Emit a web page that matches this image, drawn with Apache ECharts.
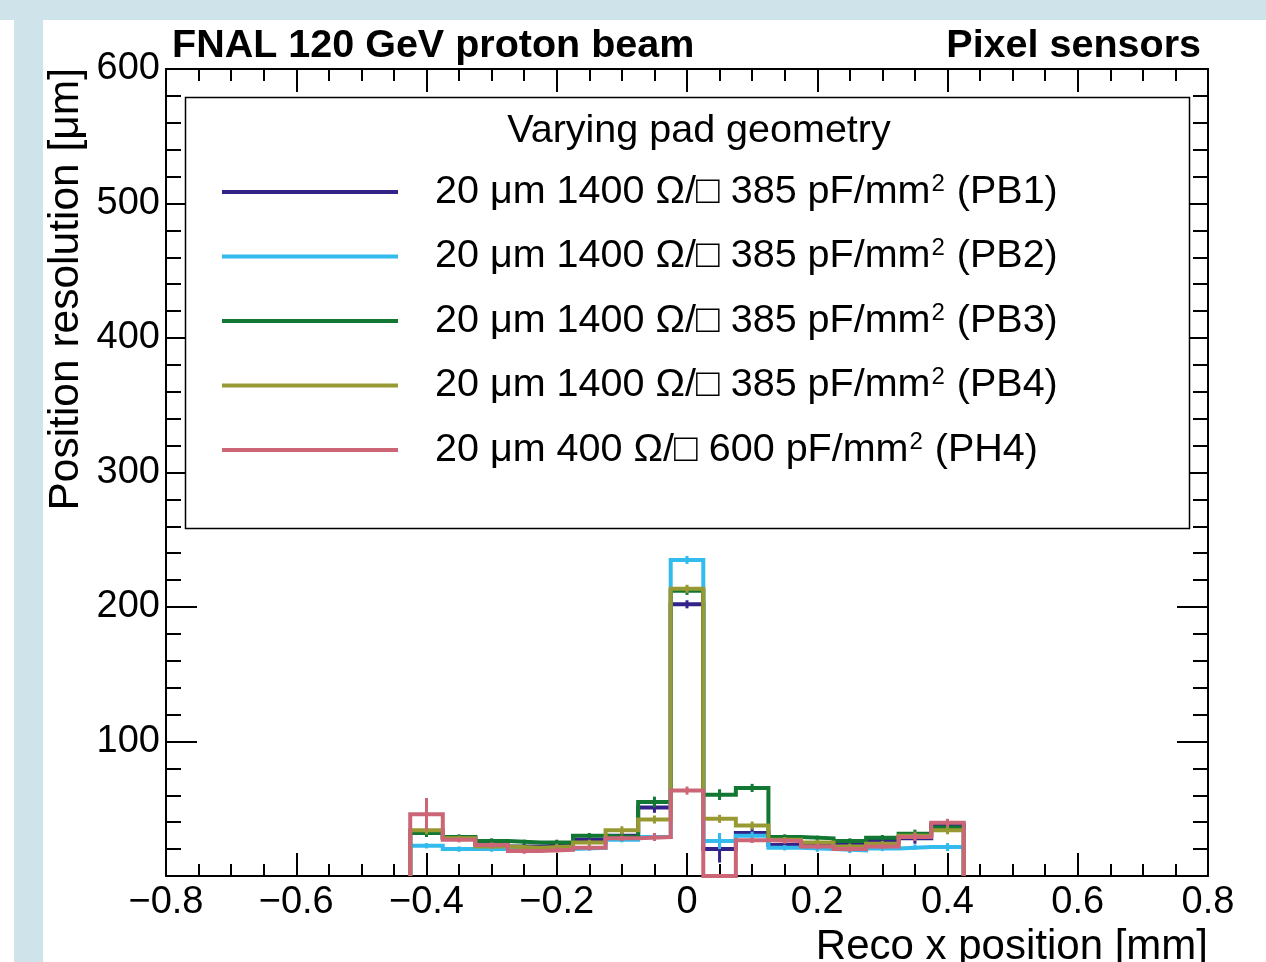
<!DOCTYPE html>
<html>
<head>
<meta charset="utf-8">
<script src="https://cdn.jsdelivr.net/npm/echarts@6/dist/echarts.min.js"></script>
<style>
  html, body { margin: 0; padding: 0; background: #fff; }
  #chart { width: 1266px; height: 962px; }
</style>
</head>
<body>
<div id="chart"></div>
<script>
// bin centres (mm), bin width 0.05
const binCenters = [-0.4, -0.35, -0.3, -0.25, -0.2, -0.15, -0.1, -0.05, 0, 0.05, 0.1, 0.15, 0.2, 0.25, 0.3, 0.35, 0.4];
const binWidth = 0.05;

const seriesNames = ['PB1', 'PB2', 'PB3', 'PB4', 'PH4'];
const seriesLabels = [
    '20 μm 1400 Ω/□ 385 pF/mm|2| (PB1)',
    '20 μm 1400 Ω/□ 385 pF/mm|2| (PB2)',
    '20 μm 1400 Ω/□ 385 pF/mm|2| (PB3)',
    '20 μm 1400 Ω/□ 385 pF/mm|2| (PB4)',
    '20 μm 400 Ω/□ 600 pF/mm|2| (PH4)'
];
const seriesColors = ['#332288', '#33bbee', '#117733', '#999933', '#cc6677'];

// position resolution (um) per bin
const pb1 = [33, 28, 24, 22, 23, 27, 30, 51, 202, 20, 32, 23, 24, 23, 26, 28, 38];
const pb2 = [22.5, 20, 20, 20, 20, 21, 27, 29, 235, 26, 30, 21, 20, 19, 20.5, 21.5, 21.5];
const pb3 = [32, 29, 26, 25, 25, 30, 29, 55, 212, 60.5, 65.5, 29, 28, 26, 28.5, 31.5, 36];
const pb4 = [34, 28, 22, 21, 22, 25, 34, 42, 213.5, 42.5, 37.5, 27, 25, 22, 24, 30, 34];
const ph4 = [46, 27, 23, 18.5, 19.5, 21, 28, 29, 63.5, 0, 26.5, 26, 22, 20, 22, 29, 39.5];

// statistical errors (um)
const pb1Err = [3, 2, 2, 2, 2, 2, 3, 4, 3, 10, 4, 3, 2, 2, 2, 4, 4];
const pb2Err = [2, 2, 2, 2, 2, 2, 2, 3, 3, 6, 3, 2, 2, 2, 2, 2, 3];
const pb3Err = [3, 2, 2, 2, 2, 2, 3, 4, 3, 4, 3, 2, 2, 2, 2, 3, 3];
const pb4Err = [3, 2, 2, 2, 2, 2, 3, 3, 3, 3, 3, 2, 2, 2, 2, 3, 3];
const ph4Err = [12, 2, 2, 2, 2, 2, 2, 3, 3, 0, 2, 2, 2, 2, 2, 3, 3];

const allValues = [pb1, pb2, pb3, pb4, ph4];
const allErrors = [pb1Err, pb2Err, pb3Err, pb4Err, ph4Err];

const FONT = '"Liberation Sans", Arial, Helvetica, sans-serif';

// ROOT-style histogram outline, dropping to zero at the outer edges
function outline(values) {
    const pts = [];
    const first = binCenters[0] - binWidth / 2;
    pts.push([first, 0]);
    values.forEach((v, i) => {
        const lo = binCenters[i] - binWidth / 2;
        const hi = binCenters[i] + binWidth / 2;
        pts.push([lo, v]);
        pts.push([hi, v]);
    });
    pts.push([binCenters[binCenters.length - 1] + binWidth / 2, 0]);
    return pts;
}

function errorSeries(idx) {
    const color = seriesColors[idx];
    return {
        name: seriesNames[idx] + ' err',
        type: 'custom',
        z: 3 + idx,
        data: binCenters.map((x, i) => [x, allValues[idx][i], allErrors[idx][i]]),
        renderItem: (params, api) => {
            const x = api.value(0), y = api.value(1), e = api.value(2);
            if (y <= 0 || e <= 0) return null;
            const top = api.coord([x, y + e]);
            const bot = api.coord([x, y - e]);
            return {
                type: 'line',
                shape: { x1: top[0], y1: top[1], x2: bot[0], y2: bot[1] },
                style: { stroke: color, lineWidth: 3 }
            };
        }
    };
}

const series = [];
seriesNames.forEach((name, idx) => {
    series.push({
        name: name,
        type: 'line',
        z: 3 + idx,
        color: seriesColors[idx],
        showSymbol: false,
        data: outline(allValues[idx]),
        lineStyle: { color: seriesColors[idx], width: 4, join: 'miter' }
    });
    series.push(errorSeries(idx));
});

const axisLineStyle = { color: '#000', width: 2 };

const chart = echarts.init(document.getElementById('chart'));
const option = {
    animation: false,
    backgroundColor: '#fff',
    textStyle: { fontFamily: FONT },
    grid: { left: 166, top: 69, width: 1042, height: 807 },
    title: [
        {
            text: 'FNAL 120 GeV proton beam',
            left: 172, top: 26, padding: 0,
            textStyle: { fontFamily: FONT, fontSize: 39.5, fontWeight: 'bold', color: '#000' }
        },
        {
            text: 'Pixel sensors',
            right: 65, top: 26, padding: 0,
            textStyle: { fontFamily: FONT, fontSize: 39.5, fontWeight: 'bold', color: '#000' }
        }
    ],
    legend: {
        orient: 'vertical',
        left: 222, top: 172, padding: 0,
        itemWidth: 176, itemHeight: 4, itemGap: 24.5,
        icon: 'rect',
        selectedMode: false,
        data: seriesNames,
        formatter: name => {
            const parts = seriesLabels[seriesNames.indexOf(name)].split('|');
            return '{t|' + parts[0] + '}{s|' + parts[1] + '}{t|' + parts[2] + '}';
        },
        textStyle: {
            padding: [0, 0, 0, 32],
            rich: {
                t: { fontFamily: FONT, fontSize: 39.5, lineHeight: 40, color: '#000' },
                s: { fontFamily: FONT, fontSize: 24, lineHeight: 40, color: '#000', verticalAlign: 'top', padding: [0, 1, 14, 1] }
            }
        }
    },
    xAxis: [
        {
            type: 'value', min: -0.8, max: 0.8, interval: 0.2,
            axisLine: { show: true, onZero: false, lineStyle: axisLineStyle },
            axisTick: { show: true, inside: true, length: 23, lineStyle: axisLineStyle },
            minorTick: { show: true, splitNumber: 4, length: 12, lineStyle: { color: '#000', width: 2 } },
            splitLine: { show: false },
            axisLabel: {
                show: true, margin: 8, fontSize: 38, color: '#000', fontFamily: FONT,
                showMinLabel: true, showMaxLabel: true,
                formatter: v => String(Math.round(v * 10) / 10).replace('-', '\u2212')
            }
        },
        {
            type: 'value', position: 'top', min: -0.8, max: 0.8, interval: 0.2,
            axisLine: { show: true, onZero: false, lineStyle: axisLineStyle },
            axisTick: { show: true, inside: true, length: 23, lineStyle: axisLineStyle },
            minorTick: { show: true, splitNumber: 4, length: 12, lineStyle: { color: '#000', width: 2 } },
            splitLine: { show: false },
            axisLabel: { show: false }
        }
    ],
    yAxis: [
        {
            type: 'value', min: 0, max: 600, interval: 100,
            axisLine: { show: true, onZero: false, lineStyle: axisLineStyle },
            axisTick: { show: true, inside: true, length: 31, lineStyle: axisLineStyle },
            minorTick: { show: true, splitNumber: 5, length: 15, lineStyle: { color: '#000', width: 2 } },
            splitLine: { show: false },
            axisLabel: { show: true, margin: 6, fontSize: 38, color: '#000', fontFamily: FONT, showMinLabel: false }
        },
        {
            type: 'value', position: 'right', min: 0, max: 600, interval: 100,
            axisLine: { show: true, onZero: false, lineStyle: axisLineStyle },
            axisTick: { show: true, inside: true, length: 31, lineStyle: axisLineStyle },
            minorTick: { show: true, splitNumber: 5, length: 15, lineStyle: { color: '#000', width: 2 } },
            splitLine: { show: false },
            axisLabel: { show: false }
        }
    ],
    graphic: [
        // page frame
        { type: 'rect', z: -1, shape: { x: 0, y: 0, width: 1266, height: 20 }, style: { fill: '#cfe3ea' } },
        { type: 'rect', z: -1, shape: { x: 14, y: 20, width: 29, height: 942 }, style: { fill: '#cfe3ea' } },
        // legend box
        { type: 'rect', z: 3, shape: { x: 185.5, y: 97.5, width: 1004, height: 431 }, style: { fill: '#fff', stroke: '#000', lineWidth: 1.5 } },
        {
            type: 'text', z: 5, x: 699, y: 131,
            style: { text: 'Varying pad geometry', font: '39.5px ' + FONT, fill: '#000', textAlign: 'center', textVerticalAlign: 'middle' }
        },
        // axis titles
        {
            type: 'text', x: 66, y: 68, rotation: Math.PI / 2,
            style: { text: 'Position resolution [μm]', font: '42.5px ' + FONT, fill: '#000', textAlign: 'right', textVerticalAlign: 'middle' }
        },
        {
            type: 'text', x: 1208, y: 947,
            style: { text: 'Reco x position [mm]', font: '42px ' + FONT, fill: '#000', textAlign: 'right', textVerticalAlign: 'middle' }
        }
    ],
    series: series
};
chart.setOption(option);
</script>
</body>
</html>
